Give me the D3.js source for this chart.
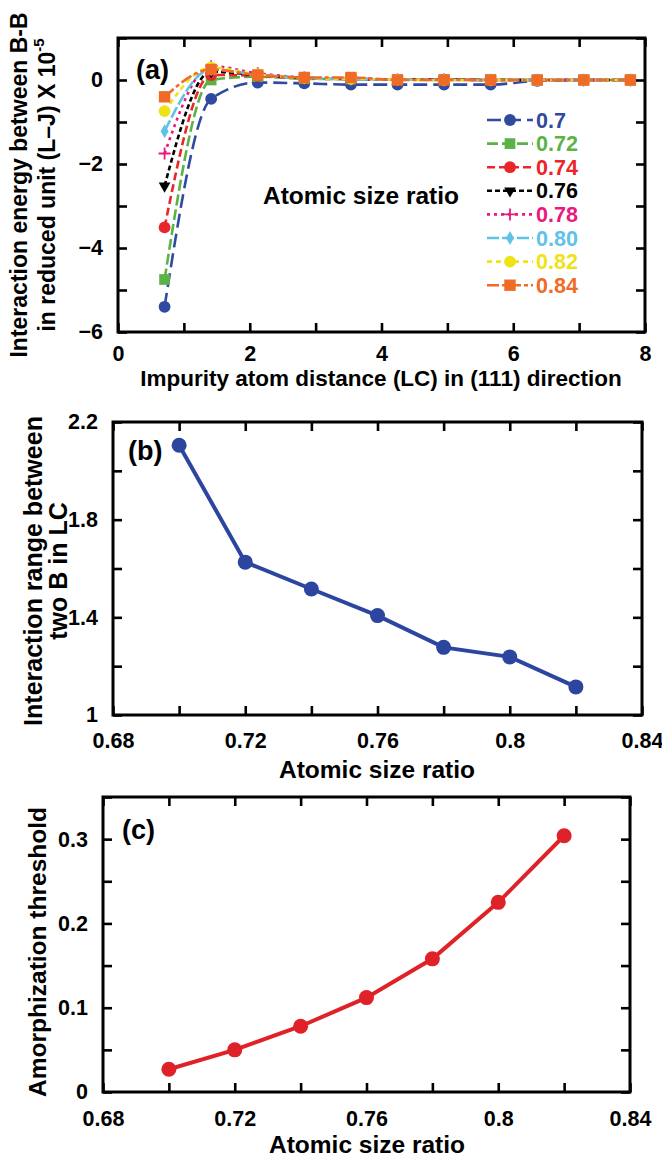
<!DOCTYPE html>
<html>
<head>
<meta charset="utf-8">
<script src="https://cdn.jsdelivr.net/npm/d3@7"></script>
<style>
  html, body { margin: 0; padding: 0; background: #fff; }
  svg { display: block; }
  text { font-family: "Liberation Sans", Arial, Helvetica, sans-serif; font-weight: bold; }
</style>
</head>
<body>
<svg id="fig" width="662" height="1158"></svg>
<script>
// ---- Panel (a): B-B interaction energy vs. impurity distance along (111) ----
const distanceLC = [0.707, 1.414, 2.121, 2.828, 3.536, 4.243, 4.950, 5.657, 6.364, 7.071, 7.778];
const ratioLabels = ["0.7", "0.72", "0.74", "0.76", "0.78", "0.80", "0.82", "0.84"];
const energy070 = [-5.40, -0.45, -0.06, -0.08, -0.11, -0.11, -0.11, -0.11, -0.02, 0.00, 0.00];
const energy072 = [-4.75, 0.00, 0.08, 0.03, 0.02, 0.01, 0.01, 0.01, 0.00, 0.00, 0.00];
const energy074 = [-3.51, 0.12, 0.10, 0.04, 0.02, 0.01, 0.01, 0.00, 0.00, 0.00, 0.00];
const energy076 = [-2.52, 0.20, 0.12, 0.05, 0.03, 0.01, 0.01, 0.00, 0.00, 0.00, 0.00];
const energy078 = [-1.75, 0.33, 0.16, 0.06, 0.03, 0.01, 0.01, 0.00, 0.00, 0.00, 0.00];
const energy080 = [-1.22, 0.25, 0.13, 0.05, 0.02, 0.01, 0.00, 0.00, 0.00, 0.00, 0.00];
const energy082 = [-0.74, 0.30, 0.13, 0.05, 0.03, 0.01, 0.00, 0.00, 0.00, 0.00, 0.00];
const energy084 = [-0.40, 0.25, 0.12, 0.06, 0.06, 0.00, 0.00, 0.00, 0.00, 0.00, 0.00];
const energyTicks = [-6, -4, -2, 0];
const distanceTicks = [0, 2, 4, 6, 8];

// ---- Panels (b) and (c): versus atomic size ratio ----
const sizeRatio = [0.70, 0.72, 0.74, 0.76, 0.78, 0.80, 0.82];
const interactionRange = [2.105, 1.626, 1.516, 1.407, 1.277, 1.238, 1.115];
const amorphThreshold = [0.027, 0.050, 0.078, 0.112, 0.158, 0.225, 0.304];
const ratioTicks = [0.68, 0.72, 0.76, 0.80, 0.84];
const rangeTicks = [1.0, 1.4, 1.8, 2.2];
const thresholdTicks = [0, 0.1, 0.2, 0.3];

const energySeries = [energy070, energy072, energy074, energy076, energy078, energy080, energy082, energy084];
const seriesColor = ["#2f4a9f", "#5bb346", "#e8262b", "#000000", "#e8197f", "#5fc3e6", "#eee317", "#ef6b26"];
const seriesDash = ["14,6", "11,4", "8,4", "5,3", "3,4", "12,3", "5,4", "12,3,4,3"];
const seriesSymbol = [d3.symbolCircle, d3.symbolSquare, d3.symbolCircle, d3.symbolTriangle,
                      d3.symbolCross, d3.symbolDiamond, d3.symbolCircle, d3.symbolSquare];
const seriesSymbolSize = [110, 115, 110, 60, 0, 55, 110, 130];

const svg = d3.select("#fig");
const FONT = '"Liberation Sans", Arial, Helvetica, sans-serif';
const TICK_FS = 21.5, TITLE_FS = 24.5;

// Draws a framed plot area with inward ticks on all four sides.
function framedAxes(g, x, y, opt) {
  const L = x.range()[0], R = x.range()[1], B = y.range()[0], T = y.range()[1];
  const tick = 9;
  const labelled = (vals) => (d) => vals.some(v => Math.abs(v - d) < 1e-9) ? opt.xFmt(d) : "";
  const labelledY = (vals) => (d) => vals.some(v => Math.abs(v - d) < 1e-9) ? opt.yFmt(d) : "";

  const ax = [
    g.append("g").attr("transform", `translate(0,${B})`)
      .call(d3.axisBottom(x).tickValues(opt.xMinor).tickSize(-tick).tickPadding(opt.xPad).tickFormat(labelled(opt.xLabels))),
    g.append("g").attr("transform", `translate(0,${T})`)
      .call(d3.axisTop(x).tickValues(opt.xMinor).tickSize(-tick).tickFormat("")),
    g.append("g").attr("transform", `translate(${L},0)`)
      .call(d3.axisLeft(y).tickValues(opt.yMinor).tickSize(-tick).tickPadding(15).tickFormat(labelledY(opt.yLabels))),
    g.append("g").attr("transform", `translate(${R},0)`)
      .call(d3.axisRight(y).tickValues(opt.yMinor).tickSize(-tick).tickFormat(""))
  ];
  ax.forEach(a => {
    a.attr("font-family", FONT).attr("font-size", TICK_FS).attr("font-weight", "bold");
    a.select(".domain").remove();
    a.selectAll(".tick line").attr("stroke", "#000").attr("stroke-width", 2.6);
    a.selectAll(".tick text").attr("fill", "#000");
  });
  // frame on top of ticks
  g.append("rect").attr("x", L).attr("y", T).attr("width", R - L).attr("height", B - T)
    .attr("fill", "none").attr("stroke", "#000").attr("stroke-width", 3);
}

function range(a, b, step) {
  const out = [];
  const n = Math.round((b - a) / step);
  for (let i = 0; i <= n; i++) out.push(+(a + i * step).toFixed(6));
  return out;
}

function drawMarkers(parent, pixelPts, i) {
  pixelPts.forEach(([px, py]) => {
    if (seriesSymbol[i] === d3.symbolCross) {
      parent.append("path").attr("d", `M${px - 6},${py}H${px + 6}M${px},${py - 6}V${py + 6}`)
        .attr("stroke", seriesColor[i]).attr("stroke-width", 1.8).attr("fill", "none");
    } else {
      const rot = seriesSymbol[i] === d3.symbolTriangle ? " rotate(180)" : "";
      parent.append("path").attr("d", d3.symbol(seriesSymbol[i], seriesSymbolSize[i])())
        .attr("transform", `translate(${px},${py})${rot}`).attr("fill", seriesColor[i]);
    }
  });
}

// ================= Panel (a) =================
{
  const x = d3.scaleLinear().domain([0, 8]).range([118, 645]);
  const y = d3.scaleLinear().domain([-6, 1]).range([332, 38]);
  const g = svg.append("g");

  svg.append("defs").append("clipPath").attr("id", "clipA")
    .append("rect").attr("x", 118).attr("y", 38).attr("width", 527).attr("height", 294);

  const plot = g.append("g").attr("clip-path", "url(#clipA)");
  const line = d3.line().x(d => x(d[0])).y(d => y(d[1])).curve(d3.curveMonotoneX);

  energySeries.forEach((vals, i) => {
    const pts = vals.map((v, k) => [distanceLC[k], v]);
    plot.append("path").attr("d", line(pts)).attr("fill", "none")
      .attr("stroke", seriesColor[i]).attr("stroke-width", 2.6)
      .attr("stroke-dasharray", seriesDash[i]);
  });
  energySeries.forEach((vals, i) => {
    const pts = vals.map((v, k) => [distanceLC[k], v]);
    drawMarkers(plot, pts.map(p => [x(p[0]), y(p[1])]), i);
  });

  framedAxes(g, x, y, {
    xMinor: range(0, 8, 1), xLabels: distanceTicks, xFmt: d3.format("d"), xPad: 14,
    yMinor: range(-6, 1, 1), yLabels: energyTicks, yFmt: d3.format("d")
  });

  // legend
  const legendY0 = 120, legendStep = 23.6;
  energySeries.forEach((vals, i) => {
    const yy = legendY0 + i * legendStep;
    g.append("line").attr("x1", 487).attr("x2", 533).attr("y1", yy).attr("y2", yy)
      .attr("stroke", seriesColor[i]).attr("stroke-width", 2.6).attr("stroke-dasharray", seriesDash[i]);
    drawMarkers(g, [[510, yy]], i);
    g.append("text").attr("x", 536).attr("y", yy + 7.5).attr("font-size", TICK_FS)
      .attr("fill", seriesColor[i]).text(ratioLabels[i]);
  });

  g.append("text").attr("x", 361).attr("y", 204).attr("text-anchor", "middle")
    .attr("font-size", TITLE_FS).text("Atomic size ratio");
  g.append("text").attr("x", 136).attr("y", 79).attr("font-size", 27).text("(a)");

  g.append("text").attr("x", 381).attr("y", 386).attr("text-anchor", "middle")
    .attr("font-size", 22.5).text("Impurity atom distance (LC) in (111) direction");

  const yl = g.append("g").attr("transform", "translate(0,185) rotate(-90)");
  yl.append("text").attr("x", 0).attr("y", 27).attr("text-anchor", "middle")
    .attr("font-size", 23).text("Interaction energy between B-B");
  const t2 = yl.append("text").attr("x", 0).attr("y", 55).attr("text-anchor", "middle").attr("font-size", 23);
  t2.append("tspan").text("in reduced unit (L–J) X 10");
  t2.append("tspan").attr("dy", -11).attr("font-size", 15).text("-5");
}

// ================= Panel (b) =================
{
  const x = d3.scaleLinear().domain([0.68, 0.84]).range([113, 642]);
  const y = d3.scaleLinear().domain([1.0, 2.2]).range([715, 422]);
  const g = svg.append("g");
  const pts = sizeRatio.map((r, k) => [r, interactionRange[k]]);
  g.append("path").attr("d", d3.line().x(d => x(d[0])).y(d => y(d[1]))(pts))
    .attr("fill", "none").attr("stroke", "#2c46a0").attr("stroke-width", 4);
  g.selectAll("circle.pb").data(pts).join("circle").attr("class", "pb")
    .attr("cx", d => x(d[0])).attr("cy", d => y(d[1])).attr("r", 7.5).attr("fill", "#2c46a0");

  framedAxes(g, x, y, {
    xMinor: range(0.68, 0.84, 0.02), xLabels: ratioTicks, xFmt: d => String(+d.toFixed(2)), xPad: 18,
    yMinor: range(1.0, 2.2, 0.2), yLabels: rangeTicks, yFmt: d => String(+d.toFixed(1))
  });
  g.append("text").attr("x", 128).attr("y", 460).attr("font-size", 27).text("(b)");
  g.append("text").attr("x", 377).attr("y", 778).attr("text-anchor", "middle")
    .attr("font-size", TITLE_FS).text("Atomic size ratio");
  const yl = g.append("g").attr("transform", "translate(0,571) rotate(-90)");
  yl.append("text").attr("y", 42).attr("text-anchor", "middle").attr("font-size", 25).text("Interaction range between");
  yl.append("text").attr("y", 67).attr("text-anchor", "middle").attr("font-size", 25).text("two B in LC");
}

// ================= Panel (c) =================
{
  const x = d3.scaleLinear().domain([0.68, 0.84]).range([103, 630]);
  const y = d3.scaleLinear().domain([0, 0.35]).range([1092, 797]);
  const g = svg.append("g");
  const pts = sizeRatio.map((r, k) => [r, amorphThreshold[k]]);
  g.append("path").attr("d", d3.line().x(d => x(d[0])).y(d => y(d[1]))(pts))
    .attr("fill", "none").attr("stroke", "#df2228").attr("stroke-width", 4);
  g.selectAll("circle.pc").data(pts).join("circle").attr("class", "pc")
    .attr("cx", d => x(d[0])).attr("cy", d => y(d[1])).attr("r", 7.5).attr("fill", "#df2228");

  framedAxes(g, x, y, {
    xMinor: range(0.68, 0.84, 0.02), xLabels: ratioTicks, xFmt: d => String(+d.toFixed(2)), xPad: 19,
    yMinor: range(0, 0.35, 0.05), yLabels: thresholdTicks, yFmt: d => String(+d.toFixed(1))
  });
  g.append("text").attr("x", 122).attr("y", 839).attr("font-size", 27).text("(c)");
  g.append("text").attr("x", 367).attr("y", 1153).attr("text-anchor", "middle")
    .attr("font-size", TITLE_FS).text("Atomic size ratio");
  g.append("g").attr("transform", "translate(0,952) rotate(-90)")
    .append("text").attr("y", 46).attr("text-anchor", "middle").attr("font-size", 24.5).text("Amorphization threshold");
}
</script>
</body>
</html>
